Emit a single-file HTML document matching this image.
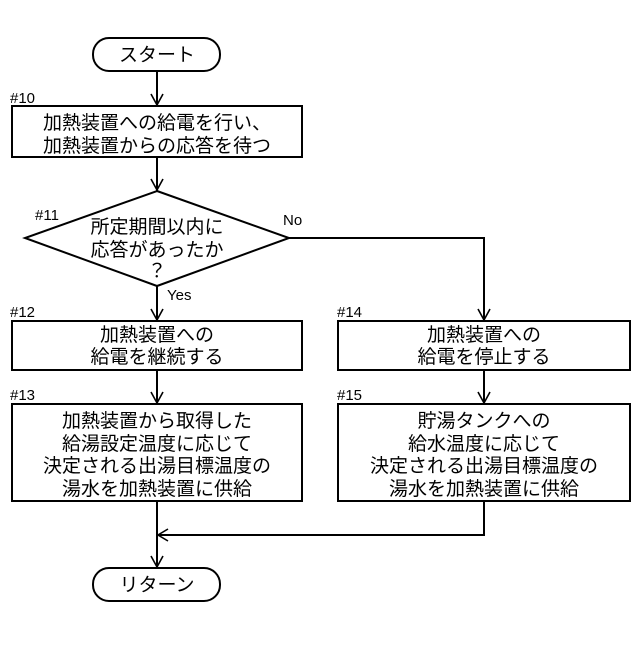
<!DOCTYPE html>
<html><head><meta charset="utf-8"><style>
body{margin:0;background:#fff}
svg text{font-family:"Liberation Sans","Noto Sans CJK JP",sans-serif;fill:#000}
</style></head><body>
<svg width="640" height="640" viewBox="0 0 640 640" xmlns="http://www.w3.org/2000/svg">
<g fill="none" stroke="#000" stroke-width="2">
<rect x="93" y="38" width="127" height="33" rx="16"/>
<rect x="12" y="106" width="290" height="51"/>
<polygon points="157,191 289,238 157,286 25,238"/>
<rect x="12" y="321" width="290" height="49"/>
<rect x="338" y="321" width="292" height="49"/>
<rect x="12" y="404" width="290" height="97"/>
<rect x="338" y="404" width="292" height="97"/>
<rect x="93" y="568" width="127" height="33" rx="16"/>
<path d="M157 71V106M157 157V191M157 286V321M289 238H484V321M157 370V404M484 370V404M157 501V568M484 501V535H157"/>
<path d="M151 94L157 105L163 94M151 179L157 190L163 179M151 309L157 320L163 309M478 309L484 320L490 309M151 392L157 403L163 392M478 392L484 403L490 392M151 556L157 567L163 556M168 529L158 535L168 541" stroke-width="1.6"/>
</g>
<g font-size="19" text-anchor="middle">
<text x="157" y="61">スタート</text>
<text x="157" y="129">加熱装置への給電を行い、</text>
<text x="157" y="152">加熱装置からの応答を待つ</text>
<text x="157" y="233">所定期間以内に</text>
<text x="157" y="256">応答があったか</text>
<text x="157" y="277">？</text>
<text x="157" y="341">加熱装置への</text>
<text x="157" y="363">給電を継続する</text>
<text x="484" y="341">加熱装置への</text>
<text x="484" y="363">給電を停止する</text>
<text x="157" y="427">加熱装置から取得した</text>
<text x="157" y="450">給湯設定温度に応じて</text>
<text x="157" y="472">決定される出湯目標温度の</text>
<text x="157" y="495">湯水を加熱装置に供給</text>
<text x="484" y="427">貯湯タンクへの</text>
<text x="484" y="450">給水温度に応じて</text>
<text x="484" y="472">決定される出湯目標温度の</text>
<text x="484" y="495">湯水を加熱装置に供給</text>
<text x="157" y="591">リターン</text>
</g>
<g font-size="15">
<text x="10" y="103">#10</text>
<text x="35" y="220">#11</text>
<text x="283" y="225">No</text>
<text x="167" y="300">Yes</text>
<text x="10" y="317">#12</text>
<text x="337" y="317">#14</text>
<text x="10" y="400">#13</text>
<text x="337" y="400">#15</text>
</g>
</svg>
</body></html>
